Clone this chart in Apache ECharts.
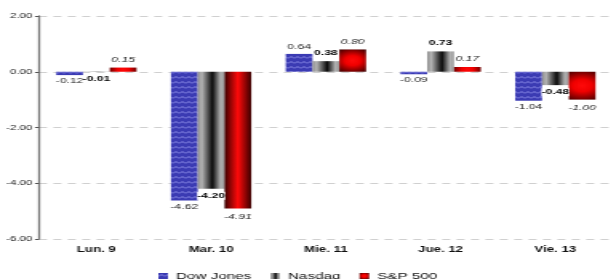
<!DOCTYPE html>
<html>
<head>
<meta charset="utf-8">
<script src="https://cdn.jsdelivr.net/npm/echarts@6/dist/echarts.min.js"></script>
<style>
  html, body { margin: 0; padding: 0; background: #fff; overflow: hidden; }
  #wrap { width: 613px; height: 279px; overflow: hidden; }
  /* the original picture is stretched sideways, so the chart is drawn narrow and widened */
  #chart { width: 383.1px; height: 279px; transform: scaleX(1.6); transform-origin: 0 0; }
</style>
</head>
<body>
<div id="wrap"><div id="chart"></div></div>
<script>
// datos
const days = ["Lun. 9", "Mar. 10", "Mie. 11", "Jue. 12", "Vie. 13"];
const dowJones = [-0.12, -4.62, 0.64, -0.09, -1.04];
const nasdaq = [-0.01, -4.20, 0.38, 0.73, -0.48];
const sp500 = [0.15, -4.91, 0.80, 0.17, -1.00];
const yMin = -6, yMax = 2, yStep = 2;

const FONT = "Liberation Sans, Arial, sans-serif";

// relleno con ondas para Dow Jones
function wavePattern() {
  const c = document.createElement("canvas");
  c.width = 4;
  c.height = 5;
  const ctx = c.getContext("2d");
  ctx.fillStyle = "#3b3bb3";
  ctx.fillRect(0, 0, 4, 5);
  ctx.strokeStyle = "#8e8ee8";
  ctx.lineWidth = 1;
  ctx.beginPath();
  ctx.moveTo(0, 3.5);
  ctx.lineTo(2, 1.5);
  ctx.lineTo(4, 3.5);
  ctx.stroke();
  return c;
}

const nasdaqColor = new echarts.graphic.LinearGradient(0, 0, 1, 0, [
  { offset: 0, color: "#8c8c8c" },
  { offset: 0.15, color: "#b4b4b4" },
  { offset: 0.55, color: "#0a0a0a" },
  { offset: 0.85, color: "#b0b0b0" },
  { offset: 1, color: "#9a9a9a" },
]);

const redStops = [
  { offset: 0, color: "#ff0a0a" },
  { offset: 0.35, color: "#f00000" },
  { offset: 1, color: "#3a0000" },
];

// approx. size of a bar in the narrow chart, only used to shape the red gradient
const unitPx = (279 - 16 - 40) / (yMax - yMin);
const barPx = (383.1 - 24.4) / days.length * 0.7 / 3;

function redFill(v) {
  const h = Math.abs(v) * unitPx;
  if (h > 2 * barPx) {
    return new echarts.graphic.LinearGradient(0, 0, 1, 0, [
      { offset: 0, color: "#3a0000" },
      { offset: 0.5, color: "#ff0a0a" },
      { offset: 1, color: "#3a0000" },
    ]);
  }
  const radius = 0.62 * Math.max(h, barPx);
  return new echarts.graphic.RadialGradient(0.5, 0.5, radius / Math.min(h, barPx), redStops);
}

function items(values, dist, withFill) {
  return values.map((v) => {
    const it = {
      value: v,
      label: { position: v >= 0 ? "top" : "bottom", distance: v >= 0 ? dist[0] : dist[1] },
    };
    if (withFill) it.itemStyle = { color: redFill(v) };
    return it;
  });
}

const fmt = (p) => p.value.toFixed(2);

const chart = echarts.init(document.getElementById("chart"));
chart.setOption({
  animation: false,
  textStyle: { fontFamily: FONT },
  grid: { left: 24.4, right: 0, top: 16, bottom: 40 },
  legend: {
    left: 94,
    top: 266,
    itemWidth: 6,
    itemHeight: 6,
    itemGap: 12,
    icon: "rect",
    textStyle: { fontSize: 9.5, color: "#111", fontFamily: FONT },
    data: ["Dow Jones", "Nasdaq", "S&P 500"],
  },
  xAxis: {
    type: "category",
    data: days,
    axisLine: { show: false },
    axisTick: { show: false },
    axisLabel: { margin: 7, fontSize: 8.3, fontWeight: "bold", color: "#111", fontFamily: FONT },
  },
  yAxis: {
    type: "value",
    min: yMin,
    max: yMax,
    interval: yStep,
    axisLine: { show: true, lineStyle: { color: "#777", width: 1.3 } },
    axisTick: { show: true, length: 2.5, lineStyle: { color: "#555" } },
    axisLabel: { margin: 4, fontSize: 7.3, color: "#222", fontFamily: FONT, formatter: (v) => v.toFixed(2) },
    splitLine: { lineStyle: { color: "#d0d0d0", type: [5, 4] } },
  },
  series: [
    {
      name: "Dow Jones",
      type: "bar",
      barGap: 0,
      barCategoryGap: "30%",
      data: items(dowJones, [3, 2], false),
      itemStyle: { color: { image: wavePattern(), repeat: "repeat" } },
      label: { show: true, formatter: fmt, fontSize: 7.6, color: "#222", fontFamily: FONT },
    },
    {
      name: "Nasdaq",
      type: "bar",
      data: items(nasdaq, [4, 3], false),
      itemStyle: { color: nasdaqColor },
      label: {
        show: true, formatter: fmt, fontSize: 7.6, fontWeight: "bold", color: "#000",
        backgroundColor: "#fff", padding: 0, fontFamily: FONT,
      },
    },
    {
      name: "S&P 500",
      type: "bar",
      data: items(sp500, [4, 4], true),
      itemStyle: { color: new echarts.graphic.RadialGradient(0.5, 0.5, 0.7, redStops) },
      label: { show: true, formatter: fmt, fontSize: 7.6, fontStyle: "italic", color: "#222", fontFamily: FONT },
    },
  ],
});
</script>
</body>
</html>
